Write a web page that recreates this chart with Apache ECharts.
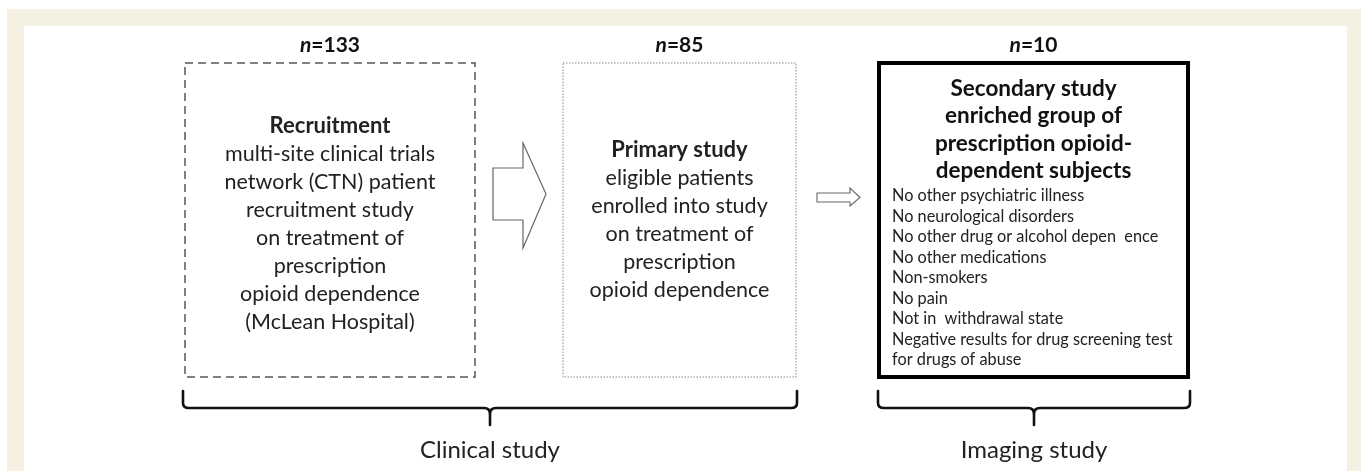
<!DOCTYPE html>
<html>
<head>
<meta charset="utf-8">
<script src="https://cdn.jsdelivr.net/npm/echarts@6/dist/echarts.min.js"></script>
<style>
html,body{margin:0;padding:0;background:#fff;}
#chart{width:1361px;height:471px;}
</style>
</head>
<body>
<div id="chart"></div>
<script>
// ---------- data ----------
const sampleSizes = [133, 85, 10];
const stageTitles = ['Recruitment', 'Primary study'];
const stageBodies = [
  ['multi-site clinical trials', 'network (CTN) patient', 'recruitment study', 'on treatment of', 'prescription', 'opioid dependence', '(McLean Hospital)'],
  ['eligible patients', 'enrolled into study', 'on treatment of', 'prescription', 'opioid dependence']
];
const secondaryHeader = ['Secondary study', 'enriched group of', 'prescription opioid-', 'dependent subjects'];
const criteria = [
  'No other psychiatric illness',
  'No neurological disorders',
  'No other drug or alcohol depen  ence',
  'No other medications',
  'Non-smokers',
  'No pain',
  'Not in  withdrawal state',
  'Negative results for drug screening test',
  'for drugs of abuse'
];
const groupLabels = ['Clinical study', 'Imaging study'];

// ---------- layout (axis units = pixels) ----------
const FONT = 'Lato, "Open Sans", sans-serif';
const boxes = [
  {x0: 185, x1: 475, y0: 63, y1: 377, kind: 'dashed'},
  {x0: 563, x1: 796, y0: 63, y1: 377, kind: 'dotted'},
  {x0: 879, x1: 1188, y0: 63, y1: 377, kind: 'solid'}
];
const nLabelY = 45;
const bodyLine = 28;
const bodyStartY = [126, 150];
const headerStartY = 89, headerLine = 27.2;
const listStartY = 196, listLine = 20.5, listX = 892;
const braces = [{x0: 183, x1: 797}, {x0: 878, x1: 1190}];
const braceTop = 391, braceY = 408, braceStem = 425, labelY = 450;
const bigArrow = {bx0: 493, bx1: 523, by0: 168, by1: 220, hy0: 143, hy1: 248, tip: 546, ty: 194};
const smallArrow = {bx0: 817, bx1: 850, by0: 193, by1: 202, hy0: 188, hy1: 206, tip: 860, ty: 197.5};

function arrowPath(api, a) {
  const pts = [[a.bx0, a.by0], [a.bx1, a.by0], [a.bx1, a.hy0], [a.tip, a.ty], [a.bx1, a.hy1], [a.bx1, a.by1], [a.bx0, a.by1]];
  return pts.map(p => api.coord(p));
}

function renderItem(params, api) {
  const i = params.dataIndex;
  const children = [];
  const c = p => api.coord(p);
  if (i === 0) {
    const a = c([7, 9]), b = c([1361, 471]);
    children.push({type: 'rect', shape: {x: a[0], y: a[1], width: b[0] - a[0], height: b[1] - a[1]}, style: {fill: '#f4f0e2'}});
    const a2 = c([24, 26]), b2 = c([1347, 471]);
    children.push({type: 'rect', shape: {x: a2[0], y: a2[1], width: b2[0] - a2[0], height: b2[1] - a2[1]}, style: {fill: '#ffffff'}});
    children.push({type: 'polygon', shape: {points: arrowPath(api, bigArrow)}, style: {fill: '#fff', stroke: '#666', lineWidth: 1.2}});
    children.push({type: 'polygon', shape: {points: arrowPath(api, smallArrow)}, style: {fill: '#fff', stroke: '#666', lineWidth: 1.1}});
    braces.forEach((br, k) => {
      const mid = (br.x0 + br.x1) / 2;
      const P = p => c(p).join(' ');
      const d = 'M ' + P([br.x0, braceTop]) + ' L ' + P([br.x0, braceY - 5]) + ' Q ' + P([br.x0, braceY]) + ' ' + P([br.x0 + 6, braceY]) +
        ' L ' + P([mid - 6, braceY]) + ' Q ' + P([mid, braceY]) + ' ' + P([mid, braceY + 6]) + ' L ' + P([mid, braceStem]) +
        ' M ' + P([mid, braceY + 6]) + ' Q ' + P([mid, braceY]) + ' ' + P([mid + 6, braceY]) +
        ' L ' + P([br.x1 - 6, braceY]) + ' Q ' + P([br.x1, braceY]) + ' ' + P([br.x1, braceY - 5]) + ' L ' + P([br.x1, braceTop]);
      children.push({type: 'path', shape: {pathData: d}, style: {fill: null, stroke: '#111', lineWidth: 2.6, lineCap: 'round', lineJoin: 'round'}});
      const lp = c([mid, labelY]);
      children.push({type: 'text', style: {text: groupLabels[k], x: lp[0], y: lp[1], fill: '#222', fontSize: 24, fontFamily: FONT, align: 'center', verticalAlign: 'middle'}});
    });
    return {type: 'group', children};
  }
  const s = i - 1;
  const bx = boxes[s];
  const tl = c([bx.x0, bx.y0]), br = c([bx.x1, bx.y1]);
  let stroke = '#555', lw = 1.5, dash = [8, 5];
  if (bx.kind === 'dotted') { stroke = '#888'; lw = 1; dash = [1.5, 1.5]; }
  if (bx.kind === 'solid') { stroke = '#000'; lw = 4; dash = null; }
  children.push({type: 'rect', shape: {x: tl[0], y: tl[1], width: br[0] - tl[0], height: br[1] - tl[1]},
    style: {fill: '#fff', stroke, lineWidth: lw, lineDash: dash}});
  const cx = (bx.x0 + bx.x1) / 2;
  const np = c([cx, nLabelY]);
  children.push({type: 'text', style: {
    text: '{i|n}{b|=' + api.value(1) + '}', x: np[0], y: np[1], align: 'center', verticalAlign: 'middle',
    rich: {i: {fontStyle: 'italic', fontWeight: 'bold', fontSize: 21, fontFamily: FONT, fill: '#111'},
           b: {fontWeight: 'bold', fontSize: 21, fontFamily: FONT, fill: '#111'}}}});
  if (s < 2) {
    const lines = [stageTitles[s]].concat(stageBodies[s]);
    lines.forEach((t, k) => {
      const p = c([cx, bodyStartY[s] + k * bodyLine]);
      children.push({type: 'text', style: {text: t, x: p[0], y: p[1], fill: '#222', fontSize: k === 0 ? 22 : 21.5, fontFamily: FONT,
        fontWeight: k === 0 ? 'bold' : 'normal', align: 'center', verticalAlign: 'middle'}});
    });
  } else {
    secondaryHeader.forEach((t, k) => {
      const p = c([cx, headerStartY + k * headerLine]);
      children.push({type: 'text', style: {text: t, x: p[0], y: p[1], fill: '#111', fontSize: 22.5, fontFamily: FONT,
        fontWeight: 'bold', align: 'center', verticalAlign: 'middle'}});
    });
    criteria.forEach((t, k) => {
      const p = c([listX, listStartY + k * listLine]);
      children.push({type: 'text', style: {text: t, x: p[0], y: p[1], fill: '#222', fontSize: 16.3, fontFamily: FONT,
        align: 'left', verticalAlign: 'middle'}});
    });
  }
  return {type: 'group', children};
}

const chart = echarts.init(document.getElementById('chart'), null, {renderer: 'canvas'});
chart.setOption({
  animation: false,
  backgroundColor: '#fff',
  grid: {left: 0, right: 0, top: 0, bottom: 0},
  xAxis: {type: 'value', min: 0, max: 1361, show: false},
  yAxis: {type: 'value', min: 0, max: 471, inverse: true, show: false},
  series: [{
    type: 'custom',
    coordinateSystem: 'cartesian2d',
    clip: false,
    renderItem,
    data: [[0, 0]].concat(sampleSizes.map((n, k) => [k + 1, n])),
    encode: {x: 0, y: 1},
    silent: true
  }]
});
</script>
</body>
</html>
